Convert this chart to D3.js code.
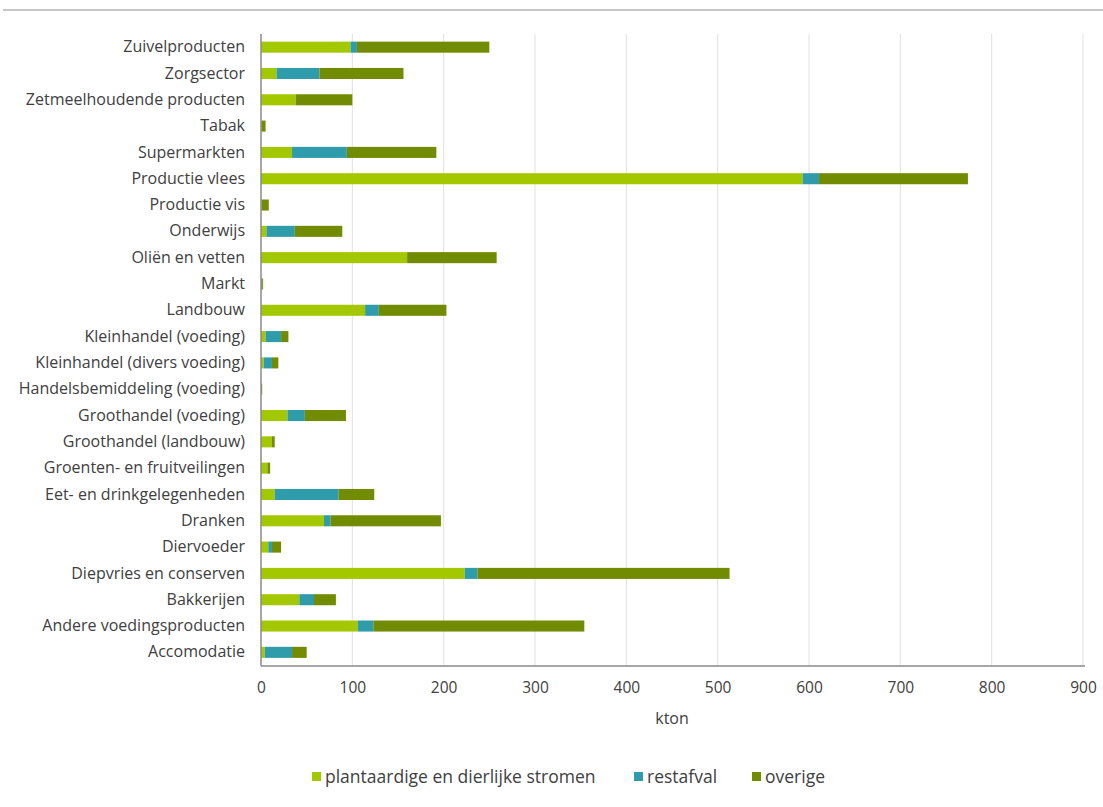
<!DOCTYPE html>
<html><head><meta charset="utf-8">
<script src="https://cdn.jsdelivr.net/npm/d3@7"></script>
<style>body{margin:0;background:#fff;}svg{display:block;}</style>
</head><body>
<svg id="c" width="1103" height="807"></svg>
<script>
const categories = ["Zuivelproducten","Zorgsector","Zetmeelhoudende producten","Tabak","Supermarkten","Productie vlees","Productie vis","Onderwijs","Oliën en vetten","Markt","Landbouw","Kleinhandel (voeding)","Kleinhandel (divers voeding)","Handelsbemiddeling (voeding)","Groothandel (voeding)","Groothandel (landbouw)","Groenten- en fruitveilingen","Eet- en drinkgelegenheden","Dranken","Diervoeder","Diepvries en conserven","Bakkerijen","Andere voedingsproducten","Accomodatie"];
const plantaardig = [98,17,38,1,34,593,1,6,160,0.3,114,5,3,0.3,29,12,7,15,69,8,223,42,106,4];
const restafval   = [7,47,0,0,60,18,0,31,0,1,15,17,9,0,19,0,0,70,7,4,14,16,17,30];
const overige     = [145,92,62,4,98,163,7.5,52,98,1,74,8,7,1,45,3,3,39,121,10,276,24,231,16];
const seriesNames = ["plantaardige en dierlijke stromen","restafval","overige"];
const colors = ["#a3c800","#2e9cab","#718c00"];
const xTicks = [0,100,200,300,400,500,600,700,800,900];

const svg = d3.select("#c");
const font = "'Open Sans', sans-serif";
const m = {l:261, r:1083, t:34, b:665.5};

svg.append("line").attr("x1",3).attr("x2",1103).attr("y1",10).attr("y2",10)
  .attr("stroke","#c6c6c6").attr("stroke-width",2);

const x = d3.scaleLinear().domain([0,900]).range([m.l,m.r]);
const y = d3.scaleBand().domain(categories).range([m.t,m.b]).paddingInner(0.58).paddingOuter(0.29);

// gridlines
svg.append("g").selectAll("line").data(xTicks.filter(d=>d>0)).join("line")
  .attr("x1",d=>x(d)).attr("x2",d=>x(d)).attr("y1",m.t).attr("y2",m.b)
  .attr("stroke","#e0e0e0").attr("stroke-width",1);

const data = categories.map((c,i)=>({cat:c, p:plantaardig[i], r:restafval[i], o:overige[i]}));
const stack = d3.stack().keys(["p","r","o"])(data);
svg.append("g").selectAll("g").data(stack).join("g").attr("fill",(d,i)=>colors[i])
  .selectAll("rect").data(d=>d).join("rect")
  .attr("x",d=>x(d[0])).attr("width",d=>Math.max(0,x(d[1])-x(d[0])))
  .attr("y",d=>y(d.data.cat)).attr("height",y.bandwidth());

// axes lines
svg.append("line").attr("x1",m.l).attr("x2",m.l).attr("y1",m.t).attr("y2",m.b+0.5).attr("stroke","#8a8a8a").attr("stroke-width",1.5);
svg.append("line").attr("x1",m.l).attr("x2",m.r+2).attr("y1",m.b+0.5).attr("y2",m.b+0.5).attr("stroke","#8a8a8a").attr("stroke-width",1.5);

// category labels
const ax = d3.axisLeft(y).tickSize(0).tickPadding(16);
const gy = svg.append("g").attr("transform",`translate(${m.l},0)`).call(ax);
gy.select(".domain").remove();
gy.selectAll("text").attr("font-family",font).attr("font-size",16).attr("fill","#404040");

// x tick labels
const axb = d3.axisBottom(x).tickValues(xTicks).tickSize(0).tickPadding(16);
const gx = svg.append("g").attr("transform",`translate(0,${m.b})`).call(axb);
gx.select(".domain").remove();
gx.selectAll("text").attr("font-family",font).attr("font-size",15.5).attr("fill","#404040");

svg.append("text").attr("x",(m.l+m.r)/2+0).attr("y",724).attr("text-anchor","middle")
  .attr("font-family",font).attr("font-size",16).attr("fill","#404040").text("kton");

// legend
const legX = [312,634,752];
const lg = svg.append("g");
seriesNames.forEach((s,i)=>{
  lg.append("rect").attr("x",legX[i]).attr("y",772).attr("width",9).attr("height",9).attr("fill",colors[i]);
  lg.append("text").attr("x",legX[i]+13).attr("y",783).attr("font-family",font).attr("font-size",17.5)
    .attr("fill","#404040").text(s);
});
</script>
</body></html>
